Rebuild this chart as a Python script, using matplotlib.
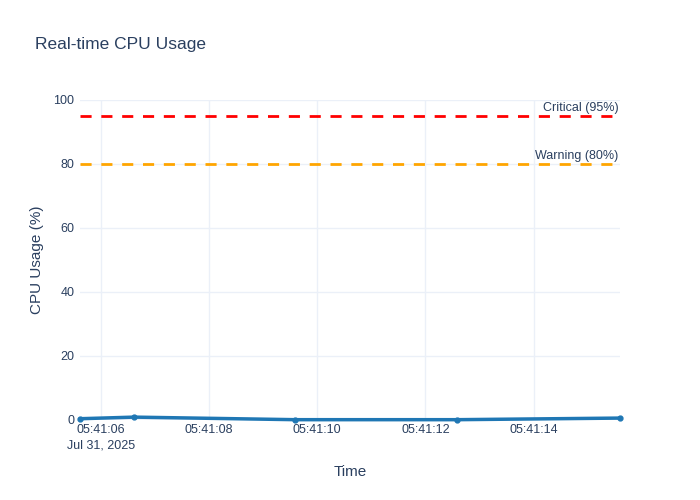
import datetime as dt

import matplotlib
matplotlib.use("Agg")
from matplotlib import pyplot as plt
import matplotlib.dates as mdates
from matplotlib.transforms import offset_copy

# sample times (seconds after 05:41:00) and cpu values
t_sec = [5.61, 6.61, 9.59, 12.59, 15.6]
cpu = [0.4, 0.9, 0.1, 0.1, 0.6]

critical = 95
warning = 80

tick_sec = [6, 8, 10, 12, 14]
date_label = "Jul 31, 2025"

base = dt.datetime(2025, 7, 31, 5, 41, 0)
times = [base + dt.timedelta(seconds=s) for s in t_sec]
ticks = [base + dt.timedelta(seconds=s) for s in tick_sec]

txt = "#2a3f5f"
grid = "#ebf0f8"

plt.rcParams['font.family'] = ['Liberation Sans', 'DejaVu Sans']

fig = plt.figure(figsize=(7, 5), dpi=100)
ax = fig.add_axes([80 / 700, 0.16, 540 / 700, 0.64])

ax.plot(times, cpu, color="#1f77b4", lw=2.5, marker="o", ms=3.5,
        clip_on=False, zorder=5, solid_capstyle="round")

ax.axhline(critical, color="red", lw=2, ls=(0, (4, 3.5)), zorder=3)
ax.axhline(warning, color="orange", lw=2, ls=(0, (4, 3.5)), zorder=3)

ax.text(0.997, critical + 0.6, "Critical (95%)", transform=ax.get_yaxis_transform(),
        ha="right", va="bottom", color=txt, fontsize=9)
ax.text(0.997, warning + 0.6, "Warning (80%)", transform=ax.get_yaxis_transform(),
        ha="right", va="bottom", color=txt, fontsize=9)

ax.set_xlim(times[0], times[-1])
ax.set_ylim(0, 100)
ax.set_yticks([0, 20, 40, 60, 80, 100])

ax.set_xticks(ticks)
ax.xaxis.set_major_formatter(mdates.DateFormatter("%H:%M:%S"))

# date line under the first tick, as plotly does
trans = offset_copy(ax.get_xaxis_transform(), fig=fig, y=-14, units="points")
ax.text(mdates.date2num(ticks[0]), 0, date_label, transform=trans,
        ha="center", va="top", color=txt, fontsize=9)

ax.grid(True, color=grid, lw=1)
ax.axhline(0, color=grid, lw=2, zorder=1)
for s in ax.spines.values():
    s.set_visible(False)
ax.tick_params(length=0, colors=txt, labelsize=9)
ax.tick_params(axis="x", pad=3)
ax.tick_params(axis="y", pad=4)

ax.set_xlabel("Time", color=txt, fontsize=11, labelpad=21)
ax.set_ylabel("CPU Usage (%)", color=txt, fontsize=11, labelpad=7)

fig.text(35 / 700, 1 - 45 / 500, "Real-time CPU Usage", color=txt, fontsize=12.5,
         va="center", ha="left")

fig.savefig("out.png", dpi=100)
